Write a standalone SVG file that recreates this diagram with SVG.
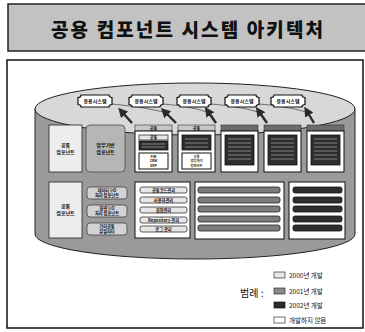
<svg xmlns="http://www.w3.org/2000/svg" width="365" height="332" viewBox="0 0 365 332">
<style>
text{font-family:"Noto Sans CJK KR","Noto Sans",sans-serif;fill:#111}
.b{font-weight:bold}
.t5{font-size:5px}
.t4{font-size:4.2px}
.t3{font-size:3.3px}
.frm{fill:#fff;stroke:#111;stroke-width:1}
.lt{fill:#e6e6e6;stroke:#333;stroke-width:0.8}
.md{fill:#7c7c7c;stroke:#222;stroke-width:0.8}
.dk{fill:#2e2e2e;stroke:#111;stroke-width:0.8}
.arw{stroke:#2a2a2a;stroke-width:2.4;fill:none}
.crv{stroke:#555;stroke-width:0.8;fill:none}
.ln{stroke:#9a9a9a;stroke-width:0.8}
</style>
<defs>
<path id="app" d="M-14,-6 H14 Q14,-3.5 17,-3.5 V3.5 Q14,3.5 14,6 H-14 Q-14,3.5 -17,3.5 V-3.5 Q-14,-3.5 -14,-6 Z" fill="#fff" stroke="#111" stroke-width="1.2"/>
<marker id="ah" markerWidth="4" markerHeight="4" refX="1" refY="2" orient="auto-start-reverse" markerUnits="strokeWidth">
<path d="M0,0 L4,2 L0,4 Z" fill="#2a2a2a"/>
</marker>
</defs>

<g id="title">
<rect x="8" y="4" width="362" height="47" fill="#c2c2c2" stroke="#222" stroke-width="1.5"/>
<text x="187" y="37" text-anchor="middle" font-weight="900" font-size="19" textLength="272" lengthAdjust="spacing">공용 컴포넌트 시스템 아키텍처</text>
</g>

<rect id="frame" x="7" y="60" width="356" height="268" fill="#fff" stroke="#111" stroke-width="1.5"/>

<g id="cylinder">
<path d="M35,109 V234 A160,25 0 0 0 355,234 V109 Z" fill="#9a9a9a" stroke="#222" stroke-width="1"/>
<ellipse cx="195" cy="109" rx="160" ry="26" fill="#d8d8d8" stroke="#222" stroke-width="1"/>
</g>

<g id="connectors">
<path class="crv" d="M112,104 Q140,106 164,112"/>
<path class="crv" d="M163,104 Q190,106 207,112"/>
<path class="crv" d="M211,104 Q238,106 258,112"/>
<path class="crv" d="M259,104 Q286,106 306,112"/>
<line class="arw" x1="132" y1="123" x2="123" y2="113" marker-end="url(#ah)"/>
<line class="arw" x1="176" y1="123" x2="166" y2="113" marker-end="url(#ah)"/>
<line class="arw" x1="216" y1="123" x2="209" y2="113" marker-end="url(#ah)"/>
<line class="arw" x1="267" y1="123" x2="260" y2="113" marker-end="url(#ah)"/>
<line class="arw" x1="314" y1="123" x2="308" y2="113" marker-end="url(#ah)"/>
</g>

<g id="app1" transform="translate(95,101)"><use href="#app"/><text y="1.8" text-anchor="middle" class="b t5">응용시스템</text></g>
<g id="app2" transform="translate(146,101)"><use href="#app"/><text y="1.8" text-anchor="middle" class="b t5">응용시스템</text></g>
<g id="app3" transform="translate(194,101)"><use href="#app"/><text y="1.8" text-anchor="middle" class="b t5">응용시스템</text></g>
<g id="app4" transform="translate(242,101)"><use href="#app"/><text y="1.8" text-anchor="middle" class="b t5">응용시스템</text></g>
<g id="app5" transform="translate(288,101)"><use href="#app"/><text y="1.8" text-anchor="middle" class="b t5">응용시스템</text></g>

<g id="bizComp">
<rect x="49" y="125" width="33" height="47" fill="#ededed" stroke="#333" stroke-width="0.9"/>
<text x="65.5" y="147" text-anchor="middle" class="b t5">공통</text>
<text x="65.5" y="154" text-anchor="middle" class="b t5">컴포넌트</text>
</g>
<g id="bizBase">
<rect x="86" y="125" width="39" height="47" rx="4" fill="#b6b6b6" stroke="#555" stroke-width="0.9"/>
<text x="105.5" y="147" text-anchor="middle" class="b t5">업무기반</text>
<text x="105.5" y="154" text-anchor="middle" class="b t5">컴포넌트</text>
</g>

<g id="col1">
<rect x="135" y="125" width="37" height="6" fill="#c8c8c8" stroke="#333" stroke-width="0.6"/>
<text x="153.5" y="129.6" text-anchor="middle" class="b t4">공통</text>
<rect class="frm" x="135" y="131" width="37" height="41"/>
<rect class="lt" x="139" y="135" width="29" height="5"/>
<text x="153.5" y="139" text-anchor="middle" class="b t4">공통</text>
<rect class="dk" x="139" y="141" width="29" height="9"/>
<line class="ln" x1="142" y1="144" x2="165" y2="144"/><line class="ln" x1="142" y1="147" x2="165" y2="147"/>
<rect class="frm" x="139" y="153" width="29" height="16"/>
<text x="153.5" y="157.8" text-anchor="middle" class="b t3">FIM</text>
<text x="153.5" y="162.3" text-anchor="middle" class="b t3">CRM</text>
<text x="153.5" y="166.8" text-anchor="middle" class="b t3">ERP</text>
</g>
<g id="col2">
<rect x="178" y="125" width="37" height="6" fill="#c8c8c8" stroke="#333" stroke-width="0.6"/>
<text x="196.5" y="129.6" text-anchor="middle" class="b t4">공통</text>
<rect class="frm" x="178" y="131" width="37" height="41"/>
<rect class="dk" x="182" y="135" width="29" height="15"/>
<line class="ln" x1="185" y1="139" x2="208" y2="139"/><line class="ln" x1="185" y1="143" x2="208" y2="143"/><line class="ln" x1="185" y1="147" x2="208" y2="147"/>
<rect class="frm" x="182" y="153" width="29" height="16"/>
<text x="196.5" y="157.8" text-anchor="middle" class="b t3">공통</text>
<text x="196.5" y="162.3" text-anchor="middle" class="b t3">업무처리</text>
<text x="196.5" y="166.8" text-anchor="middle" class="b t3">컴포넌트</text>
</g>
<g id="col3">
<rect x="221" y="125" width="37" height="6" fill="#6c6c6c" stroke="#333" stroke-width="0.6"/>
<rect class="frm" x="221" y="131" width="37" height="41"/>
<rect class="dk" x="225" y="135" width="29" height="30"/>
<line class="ln" x1="228" y1="139" x2="251" y2="139"/><line class="ln" x1="228" y1="143" x2="251" y2="143"/><line class="ln" x1="228" y1="147" x2="251" y2="147"/><line class="ln" x1="228" y1="151" x2="251" y2="151"/><line class="ln" x1="228" y1="155" x2="251" y2="155"/><line class="ln" x1="228" y1="159" x2="251" y2="159"/>
</g>
<g id="col4">
<rect x="264" y="125" width="37" height="6" fill="#6c6c6c" stroke="#333" stroke-width="0.6"/>
<rect class="frm" x="264" y="131" width="37" height="41"/>
<rect class="dk" x="268" y="135" width="29" height="30"/>
<line class="ln" x1="271" y1="139" x2="294" y2="139"/><line class="ln" x1="271" y1="143" x2="294" y2="143"/><line class="ln" x1="271" y1="147" x2="294" y2="147"/><line class="ln" x1="271" y1="151" x2="294" y2="151"/><line class="ln" x1="271" y1="155" x2="294" y2="155"/><line class="ln" x1="271" y1="159" x2="294" y2="159"/>
</g>
<g id="col5">
<rect x="307" y="125" width="37" height="6" fill="#6c6c6c" stroke="#333" stroke-width="0.6"/>
<rect class="frm" x="307" y="131" width="37" height="41"/>
<rect class="dk" x="311" y="135" width="29" height="30"/>
<line class="ln" x1="314" y1="139" x2="337" y2="139"/><line class="ln" x1="314" y1="143" x2="337" y2="143"/><line class="ln" x1="314" y1="147" x2="337" y2="147"/><line class="ln" x1="314" y1="151" x2="337" y2="151"/><line class="ln" x1="314" y1="155" x2="337" y2="155"/><line class="ln" x1="314" y1="159" x2="337" y2="159"/>
</g>

<g id="commonComp">
<rect x="49" y="182" width="33" height="56" fill="#ededed" stroke="#333" stroke-width="0.9"/>
<text x="65.5" y="208" text-anchor="middle" class="b t5">공통</text>
<text x="65.5" y="215" text-anchor="middle" class="b t5">컴포넌트</text>
</g>
<g id="util1"><rect x="87" y="187" width="40" height="12" rx="3" fill="#d2d2d2" stroke="#444" stroke-width="0.8"/>
<text x="107" y="192" text-anchor="middle" class="b t4">데이터 I/O</text><text x="107" y="197" text-anchor="middle" class="b t4">처리 컴포넌트</text></g>
<g id="util2"><rect x="87" y="205" width="40" height="12" rx="3" fill="#d2d2d2" stroke="#444" stroke-width="0.8"/>
<text x="107" y="210" text-anchor="middle" class="b t4">화면 I/O</text><text x="107" y="215" text-anchor="middle" class="b t4">처리 컴포넌트</text></g>
<g id="util3"><rect x="87" y="223" width="40" height="12" rx="3" fill="#d2d2d2" stroke="#444" stroke-width="0.8"/>
<text x="107" y="228" text-anchor="middle" class="b t4">기타공통</text><text x="107" y="233" text-anchor="middle" class="b t4">유틸리티</text></g>

<g id="svc1">
<rect class="frm" x="135" y="182" width="55" height="56" stroke-width="1.2"/>
<rect class="lt" x="140" y="187" width="47" height="6" rx="2"/><text x="163.5" y="191.5" text-anchor="middle" class="b t4">공통코드관리</text>
<rect class="lt" x="140" y="197" width="47" height="6" rx="2"/><text x="163.5" y="201.5" text-anchor="middle" class="b t4">사용자관리</text>
<rect class="lt" x="140" y="207" width="47" height="6" rx="2"/><text x="163.5" y="211.5" text-anchor="middle" class="b t4">권한관리</text>
<rect class="lt" x="140" y="217" width="47" height="6" rx="2"/><text x="163.5" y="221.5" text-anchor="middle" class="b t4">Repository 관리</text>
<rect class="lt" x="140" y="226" width="47" height="6" rx="2"/><text x="163.5" y="230.5" text-anchor="middle" class="b t4">로그 관리</text>
</g>
<g id="svc2">
<rect class="frm" x="195" y="182" width="89" height="57" stroke-width="1.2"/>
<rect class="md" x="198" y="187" width="82" height="6" rx="2"/>
<rect class="md" x="198" y="197" width="82" height="6" rx="2"/>
<rect class="md" x="198" y="206" width="82" height="6" rx="2"/>
<rect class="md" x="198" y="216" width="82" height="6" rx="2"/>
<rect class="md" x="198" y="225" width="82" height="6" rx="2"/>
</g>
<g id="svc3">
<rect class="frm" x="289" y="182" width="56" height="57" stroke-width="1.2"/>
<rect class="dk" x="293" y="187" width="49" height="6" rx="2"/>
<rect class="dk" x="293" y="197" width="49" height="6" rx="2"/>
<rect class="dk" x="293" y="206" width="49" height="6" rx="2"/>
<rect class="dk" x="293" y="216" width="49" height="6" rx="2"/>
<rect class="dk" x="293" y="225" width="49" height="6" rx="2"/>
</g>

<g id="legend">
<text x="240" y="297" font-size="10">범례 :</text>
<rect x="274" y="272" width="11" height="6" fill="#e8e8e8" stroke="#333" stroke-width="0.7"/>
<text x="289" y="277.5" font-size="6.5">2000년 개발</text>
<rect x="274" y="288" width="11" height="6" fill="#8a8a8a" stroke="#333" stroke-width="0.7"/>
<text x="289" y="293.5" font-size="6.5">2001년 개발</text>
<rect x="274" y="302" width="11" height="6" fill="#2a2a2a" stroke="#111" stroke-width="0.7"/>
<text x="289" y="307.5" font-size="6.5">2002년 개발</text>
<rect x="274" y="317" width="11" height="6" fill="#fff" stroke="#333" stroke-width="0.7"/>
<text x="289" y="322.5" font-size="6.5">개발하지 않음</text>
</g>
</svg>
